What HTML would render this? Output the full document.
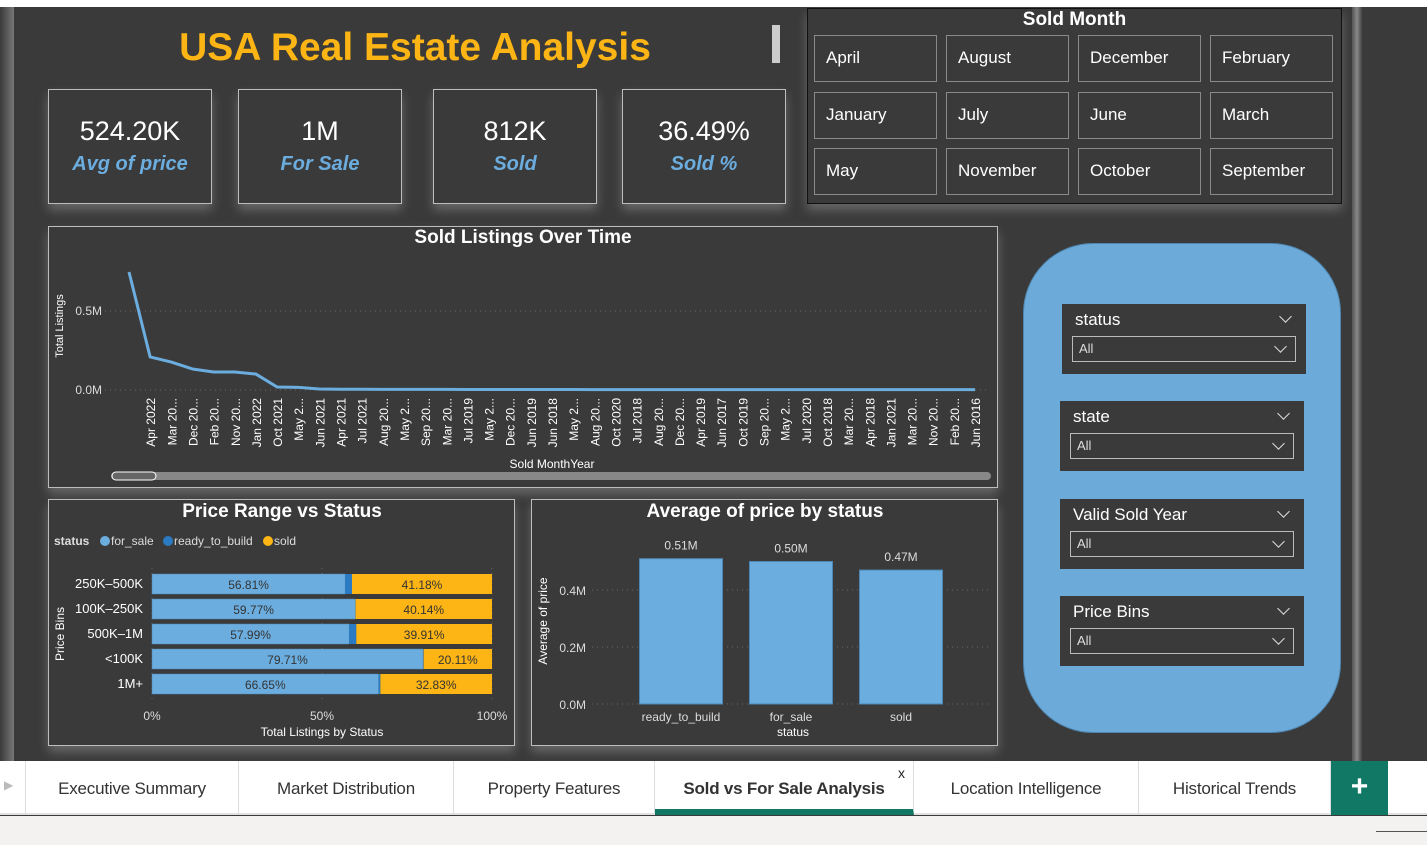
<!DOCTYPE html>
<html><head><meta charset="utf-8">
<style>
*{box-sizing:border-box;margin:0;padding:0}
body{width:1427px;height:845px;overflow:hidden;background:#3a3a3a;font-family:"Liberation Sans",Arial,sans-serif;position:relative}
.abs{position:absolute}
.box{position:absolute;border:1.5px solid #bdbdbd;background:#3a3a3a;box-shadow:0 6px 10px rgba(160,160,160,.45)}
.kpi .v{position:absolute;top:26px;width:100%;text-align:center;color:#fff;font-size:27px}
.kpi .l{position:absolute;top:63px;width:100%;text-align:center;color:#6caddf;font-size:20px;font-style:italic;font-weight:bold}
.mb{position:absolute;border:1.5px solid #8a8a8a;color:#fff;font-size:17px;padding-left:11px;line-height:44px;width:123px;height:47px}
.sl{position:absolute;background:#3a3a3a;width:244px;height:70px}
.sl .t{position:absolute;left:13px;top:6px;color:#fff;font-size:17px}
.chev{position:absolute;width:9px;height:9px;border-right:1.5px solid #ddd;border-bottom:1.5px solid #ddd;transform:rotate(45deg)}
.sl .c{right:16px;top:8px}
.sl .dd{position:absolute;left:10px;top:32px;width:224px;height:26px;border:1.5px solid #bbb;color:#ddd;font-size:13px;padding-left:6px;line-height:23px}
.dd .chev{right:10px;top:5px}
.tab{position:absolute;top:761px;height:54px;border-right:1px solid #ddd;font-family:"Liberation Sans",sans-serif;font-size:17px;color:#333;text-align:center;line-height:56px;letter-spacing:-0.2px}
</style></head><body>
<div class="abs" style="left:0;top:0;width:1427px;height:7px;background:#fff"></div>
<div class="abs" style="left:0;top:7px;width:14px;height:754px;background:linear-gradient(90deg,#3a3a3a,#777)"></div>
<div class="abs" style="left:1352px;top:7px;width:10px;height:754px;background:linear-gradient(90deg,#555,#888,#444)"></div>

<div class="abs" style="left:150px;top:26px;width:530px;text-align:center;color:#fcb514;font-size:39px;font-weight:bold">USA Real Estate Analysis</div>
<div class="abs" style="left:772px;top:25px;width:8px;height:38px;background:#ccc"></div>

<div class="box kpi" style="left:48px;top:89px;width:164px;height:115px"><div class="v">524.20K</div><div class="l">Avg of price</div></div>
<div class="box kpi" style="left:238px;top:89px;width:164px;height:115px"><div class="v">1M</div><div class="l">For Sale</div></div>
<div class="box kpi" style="left:433px;top:89px;width:164px;height:115px"><div class="v">812K</div><div class="l">Sold</div></div>
<div class="box kpi" style="left:622px;top:89px;width:164px;height:115px"><div class="v">36.49%</div><div class="l">Sold %</div></div>

<div class="box" style="left:807px;top:8px;width:535px;height:196px;border-color:#111">
<div class="abs" style="left:0;top:0;width:100%;text-align:center;color:#fff;font-weight:bold;font-size:19px">Sold Month</div>
</div>
<div class="mb" style="left:814px;top:35px">April</div>
<div class="mb" style="left:946px;top:35px">August</div>
<div class="mb" style="left:1078px;top:35px">December</div>
<div class="mb" style="left:1210px;top:35px">February</div>
<div class="mb" style="left:814px;top:92px">January</div>
<div class="mb" style="left:946px;top:92px">July</div>
<div class="mb" style="left:1078px;top:92px">June</div>
<div class="mb" style="left:1210px;top:92px">March</div>
<div class="mb" style="left:814px;top:148px">May</div>
<div class="mb" style="left:946px;top:148px">November</div>
<div class="mb" style="left:1078px;top:148px">October</div>
<div class="mb" style="left:1210px;top:148px">September</div>

<div class="abs" style="left:1023px;top:243px;width:318px;height:490px;background:#6baad9;border-radius:70px;border:1px solid #4f86b0"></div>
<div class="sl" style="left:1062px;top:304px"><div class="t">status</div><div class="chev c"></div><div class="dd">All<div class="chev"></div></div></div>
<div class="sl" style="left:1060px;top:401px"><div class="t">state</div><div class="chev c"></div><div class="dd">All<div class="chev"></div></div></div>
<div class="sl" style="left:1060px;top:499px"><div class="t">Valid Sold Year</div><div class="chev c"></div><div class="dd">All<div class="chev"></div></div></div>
<div class="sl" style="left:1060px;top:596px"><div class="t">Price Bins</div><div class="chev c"></div><div class="dd">All<div class="chev"></div></div></div>

<div class="box" style="left:48px;top:226px;width:950px;height:262px"></div>
<div class="box" style="left:48px;top:499px;width:467px;height:247px"></div>
<div class="box" style="left:531px;top:499px;width:467px;height:247px"></div>

<svg class="abs" style="left:0;top:0" width="1427" height="845" id="charts" font-family="Liberation Sans, Arial, sans-serif"></svg>

<div class="abs" style="left:0;top:761px;width:1427px;height:54px;background:#fff;border-bottom:2px solid #e1e1e1"></div>
<div class="abs" style="left:4px;top:778px;color:#bbb;font-size:12px">▶</div>
<div class="tab" style="left:25px;width:214px;border-left:1px solid #ddd">Executive Summary</div>
<div class="tab" style="left:239px;width:215px">Market Distribution</div>
<div class="tab" style="left:454px;width:201px">Property Features</div>
<div class="tab" style="left:655px;width:259px;font-weight:bold;border-bottom:6px solid #117865;line-height:56px">Sold vs For Sale Analysis</div>
<div class="abs" style="left:898px;top:765px;font-size:14px;color:#222">x</div>
<div class="tab" style="left:914px;width:225px">Location Intelligence</div>
<div class="tab" style="left:1139px;width:192px">Historical Trends</div>
<div class="abs" style="left:1331px;top:761px;width:57px;height:54px;background:#117865;color:#fff;font-size:30px;font-weight:bold;text-align:center;line-height:52px">+</div>
<div class="abs" style="left:0;top:816px;width:1427px;height:29px;background:#f3f2f1"></div>
<div class="abs" style="left:1376px;top:831px;width:51px;height:1px;background:#555"></div>

<script>
// Line chart data
const lineLabels = ["","Apr 2022","Mar 20...","Dec 20...","Feb 20...","Nov 20...","Jan 2022","Oct 2021","May 2...","Jun 2021","Apr 2021","Jul 2021","Aug 20...","May 2...","Sep 20...","Mar 20...","Jul 2019","May 2...","Dec 20...","Jun 2019","Jun 2018","May 2...","Aug 20...","Oct 2020","Jul 2018","Aug 20...","Dec 20...","Apr 2019","Jun 2017","Oct 2019","Sep 20...","May 2...","Jul 2020","Oct 2018","Mar 20...","Apr 2018","Jan 2021","Mar 20...","Nov 20...","Feb 20...","Jun 2016"];
const lineValues = [0.747,0.209,0.177,0.133,0.114,0.114,0.101,0.019,0.017,0.006,0.005,0.005,0.004,0.004,0.004,0.004,0.003,0.003,0.003,0.003,0.003,0.003,0.002,0.002,0.002,0.002,0.002,0.002,0.002,0.002,0.002,0.002,0.002,0.002,0.002,0.002,0.002,0.002,0.002,0.002,0.002];
const lineTicks = [0,0.5];
const lineTickLabels = ["0.0M","0.5M"];
// Price range data
const binCats = ["250K–500K","100K–250K","500K–1M","<100K","1M+"];
const forSale = [56.81,59.77,57.99,79.71,66.65];
const readyToBuild = [2.01,0.09,2.10,0.18,0.52];
const sold = [41.18,40.14,39.91,20.11,32.83];
const pctTicks = [0,50,100];
const pctTickLabels = ["0%","50%","100%"];
// Avg price data
const avgCats = ["ready_to_build","for_sale","sold"];
const avgValues = [0.51,0.50,0.47];
const avgLabels = ["0.51M","0.50M","0.47M"];
const avgTicks = [0,0.2,0.4];
const avgTickLabels = ["0.0M","0.2M","0.4M"];

const svg = document.getElementById('charts');
const NS = 'http://www.w3.org/2000/svg';
function mk(tag, attrs, text){const e=document.createElementNS(NS,tag);for(const k in attrs)e.setAttribute(k,attrs[k]);if(text!==undefined)e.textContent=text;svg.appendChild(e);return e;}

// ---- Line chart
const lx0=129, lx1=975, ly0=390, ly1=311;
const lxs = i => lx0 + i*(lx1-lx0)/(lineLabels.length-1);
const lys = v => ly0 - v*(ly0-ly1)/0.5;
let t;
t=mk('text',{x:523,y:243,'text-anchor':'middle',fill:'#fff','font-size':19,'font-weight':'bold'},'Sold Listings Over Time');


lineTicks.forEach((v,i)=>{
  const g=mk('line',{x1:105,x2:990,y1:lys(v),y2:lys(v),stroke:'#666','stroke-dasharray':'1 4'});
  
  
  const tl=mk('text',{x:102,y:lys(v)+4,'text-anchor':'end',fill:'#ddd','font-size':12},lineTickLabels[i]);
  
  
});
t=mk('text',{transform:'translate(63,326) rotate(-90)','text-anchor':'middle',fill:'#fff','font-size':11},'Total Listings');


const pts=lineValues.map((v,i)=>lxs(i)+','+lys(v)).join(' ');
t=mk('polyline',{points:pts,fill:'none',stroke:'#6caddf','stroke-width':3,'stroke-linejoin':'round'});


lineLabels.forEach((s,i)=>{
  if(!s) return;
  const tl=mk('text',{transform:`translate(${lxs(i)+5},398) rotate(-90)`,'text-anchor':'end',fill:'#fff','font-size':12},s);
  
  
});
t=mk('text',{x:552,y:468,'text-anchor':'middle',fill:'#fff','font-size':12},'Sold MonthYear');


t=mk('rect',{x:111,y:472,width:880,height:8,rx:4,fill:'#888'});


t=mk('rect',{x:112,y:472,width:44,height:8,rx:4,fill:'#666',stroke:'#fff','stroke-width':1});



// ---- Price range chart
const px0=152, px1=492, rowY0=584, rowStep=25, bh=20;
const pxs = p => px0 + p*(px1-px0)/100;
t=mk('text',{x:282,y:517,'text-anchor':'middle',fill:'#fff','font-size':19,'font-weight':'bold'},'Price Range vs Status');


t=mk('text',{x:54,y:545,fill:'#ddd','font-size':12,'font-weight':'bold'},'status');


[['for_sale','#6caddf',105],['ready_to_build','#2a7bc4',168],['sold','#fcb514',268]].forEach(([n,c,x])=>{
  const d=mk('circle',{cx:x,cy:541,r:5,fill:c});
  
  
  const l=mk('text',{x:x+6,y:545,fill:'#ddd','font-size':12},n);
  
  
});
pctTicks.forEach((p,i)=>{
  const g=mk('line',{x1:pxs(p),x2:pxs(p),y1:568,y2:700,stroke:'#666','stroke-dasharray':'1 4'});
  
  
  const tl=mk('text',{x:pxs(p),y:720,'text-anchor':'middle',fill:'#ddd','font-size':12},pctTickLabels[i]);
  
  
});
t=mk('text',{x:322,y:736,'text-anchor':'middle',fill:'#fff','font-size':12},'Total Listings by Status');


t=mk('text',{transform:'translate(64,634) rotate(-90)','text-anchor':'middle',fill:'#fff','font-size':12},'Price Bins');


binCats.forEach((c,i)=>{
  const cy=rowY0+i*rowStep, y=cy-bh/2;
  const cl=mk('text',{x:143,y:cy+4,'text-anchor':'end',fill:'#fff','font-size':13},c);
  
  
  let x=pxs(0);
  const w1=pxs(forSale[i])-pxs(0);
  const b1=mk('rect',{x:x,y:y,width:w1,height:bh,fill:'#6caddf',stroke:'#4d86b3','stroke-width':0.5});
  
  
  const l1=mk('text',{x:x+w1/2,y:cy+5,'text-anchor':'middle',fill:'#333','font-size':12},forSale[i].toFixed(2)+'%');
  
  
  x+=w1;
  const w2=readyToBuild[i]*(px1-px0)/100;
  const b2=mk('rect',{x:x,y:y,width:w2,height:bh,fill:'#2a7bc4'});
  
  
  x+=w2;
  const w3=sold[i]*(px1-px0)/100;
  const b3=mk('rect',{x:x,y:y,width:w3,height:bh,fill:'#fcb514'});
  
  
  const l3=mk('text',{x:x+w3/2,y:cy+5,'text-anchor':'middle',fill:'#333','font-size':12},sold[i].toFixed(2)+'%');
  
  
});

// ---- Avg price chart
const ay0=704, aPerM=285, aSlot0=626, aSlot=110, aBw=83;
const ays = v => ay0 - v*aPerM;
t=mk('text',{x:765,y:517,'text-anchor':'middle',fill:'#fff','font-size':19,'font-weight':'bold'},'Average of price by status');


avgTicks.forEach((v,i)=>{
  const g=mk('line',{x1:592,x2:990,y1:ays(v),y2:ays(v),stroke:'#666','stroke-dasharray':'1 4'});
  
  
  const tl=mk('text',{x:586,y:ays(v)+5,'text-anchor':'end',fill:'#ddd','font-size':12},avgTickLabels[i]);
  
  
});
t=mk('text',{transform:'translate(547,621) rotate(-90)','text-anchor':'middle',fill:'#fff','font-size':12},'Average of price');


avgCats.forEach((c,i)=>{
  const cx=aSlot0+aSlot*(i+0.5);
  const b=mk('rect',{x:cx-aBw/2,y:ays(avgValues[i]),width:aBw,height:avgValues[i]*aPerM,fill:'#6caddf',stroke:'#4d86b3','stroke-width':1});
  
  
  const vl=mk('text',{x:cx,y:ays(avgValues[i])-9,'text-anchor':'middle',fill:'#ddd','font-size':12},avgLabels[i]);
  
  
  const cl=mk('text',{x:cx,y:721,'text-anchor':'middle',fill:'#ddd','font-size':12},c);
  
  
});
t=mk('text',{x:793,y:736,'text-anchor':'middle',fill:'#fff','font-size':12},'status');


</script>
</body></html>
